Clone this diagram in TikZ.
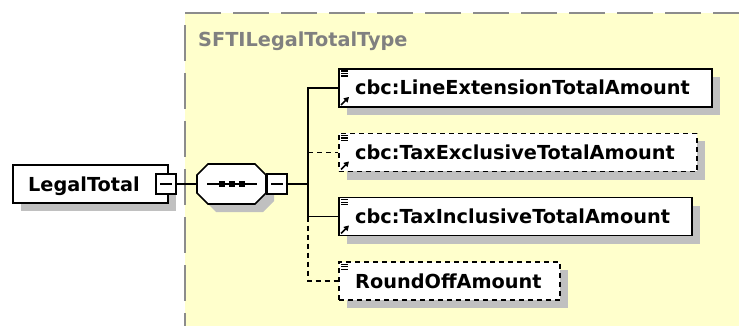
\documentclass[tikz,border=0pt]{standalone}
\usepackage{fontspec}
\setmainfont{DejaVu Sans}
\usetikzlibrary{shadows,arrows.meta}
\definecolor{bgyellow}{HTML}{FFFFCC}
\definecolor{bordergray}{HTML}{8C8C8C}
\definecolor{shadowgray}{HTML}{C0C0C0}
\definecolor{labelgray}{HTML}{808080}
\tikzset{
  shad/.style={drop shadow={shadow xshift=8pt, shadow yshift=-8pt, fill=shadowgray, opacity=1}},
  elem/.style={rectangle, draw=black, line width=1.9pt, fill=white, inner sep=0pt,
    minimum height=38pt, anchor=west, shad},
  optelem/.style={elem, dash pattern=on 5pt off 4pt},
  txt/.style={font=\fontsize{19.3}{22}\selectfont\bfseries, inner sep=0pt, anchor=base west},
  minusbox/.style={rectangle, draw=black, line width=1.5pt, fill=white, minimum size=20pt, inner sep=0pt},
  seqbox/.style={rectangle, minimum width=69pt, minimum height=40pt, inner sep=0pt},
  conn/.style={draw=black, line width=1.9pt},
  optconn/.style={conn, dash pattern=on 5pt off 4pt},
  border/.style={draw=bordergray, line width=2pt, dash pattern=on 36pt off 12pt},
  docicon/.pic={\draw[line width=1.1pt] (3,3)--(10,3) (3,5.5)--(10,5.5) (3,8)--(10,8);},
  refarrow/.pic={\draw[line width=1.6pt,-{Triangle[length=5pt,width=5.5pt]}] (3,-3)--(11,-11);}
}
\begin{document}
\begin{tikzpicture}[x=1pt,y=-1pt]
\useasboundingbox (0,0) rectangle (739,326);
% type region
\fill[bgyellow] (185,13) rectangle (739,326);
\draw[border] (185,13) -- (739,13);
\draw[border] (185,25) -- (185,326);
\node[txt, text=labelgray] (typelbl) at (198,47) {SFTILegalTotalType};

% root element
\node[elem, minimum width=155pt] (root) at (12,184) {};
\node[txt] (roott) at (28,191) {LegalTotal};
\node[minusbox] (m1) at (166,184) {};
\draw[line width=1.4pt] ([xshift=-6pt]m1.center) -- ([xshift=6pt]m1.center);

% sequence compositor (octagon)
\node[seqbox] (seq) at (231.5,184) {};
\begin{scope}[shift={(seq.center)}]
  \fill[shadowgray, shift={(8,8)}] (-23.5,-20) -- (23.5,-20) -- (34.5,-9) -- (34.5,9) -- (23.5,20) -- (-23.5,20) -- (-34.5,9) -- (-34.5,-9) -- cycle;
  \filldraw[fill=white, draw=black, line width=1.6pt] (-23.5,-20) -- (23.5,-20) -- (34.5,-9) -- (34.5,9) -- (23.5,20) -- (-23.5,20) -- (-34.5,9) -- (-34.5,-9) -- cycle;
  \draw[line width=1.6pt] (-24.5,0) -- (25.5,0);
  \foreach \dx in {-9.5,0.5,10.5}
    \fill (\dx-3,-3) rectangle (\dx+3,3);
\end{scope}
\node[minusbox] (m2) at (277,184) {};
\draw[line width=1.4pt] ([xshift=-6pt]m2.center) -- ([xshift=6pt]m2.center);

% children
\node[elem, minimum width=373pt] (le) at (338,88) {};
\node[optelem, minimum width=358pt] (te) at (338,152.5) {};
\node[elem, minimum width=353pt] (ti) at (338,216.5) {};
\node[optelem, minimum width=221pt] (ro) at (338,281) {};

\node[txt] (let) at (355,95) {cbc:LineExtensionTotalAmount};
\node[txt] (tet) at (355,159.5) {cbc:TaxExclusiveTotalAmount};
\node[txt] (tit) at (355,223.5) {cbc:TaxInclusiveTotalAmount};
\node[txt] (rot) at (355,288) {RoundOffAmount};

\foreach \n in {le,te,ti,ro} \pic at (\n.north west) {docicon};
\foreach \n in {le,te,ti} \pic at (\n.south west) {refarrow};

% connectors
\coordinate (bus) at (308,184);
\draw[conn] (m1.east) -- (seq.west);
\draw[conn] (m2.east) -- (bus);
\draw[conn] (le.west) -- (le.west -| bus) -- (ti.west -| bus) -- (ti.west);
\draw[optconn] (te.west -| bus) -- (te.west);
\draw[optconn] (ti.west -| bus) -- (ro.west -| bus) -- (ro.west);
\end{tikzpicture}
\end{document}
